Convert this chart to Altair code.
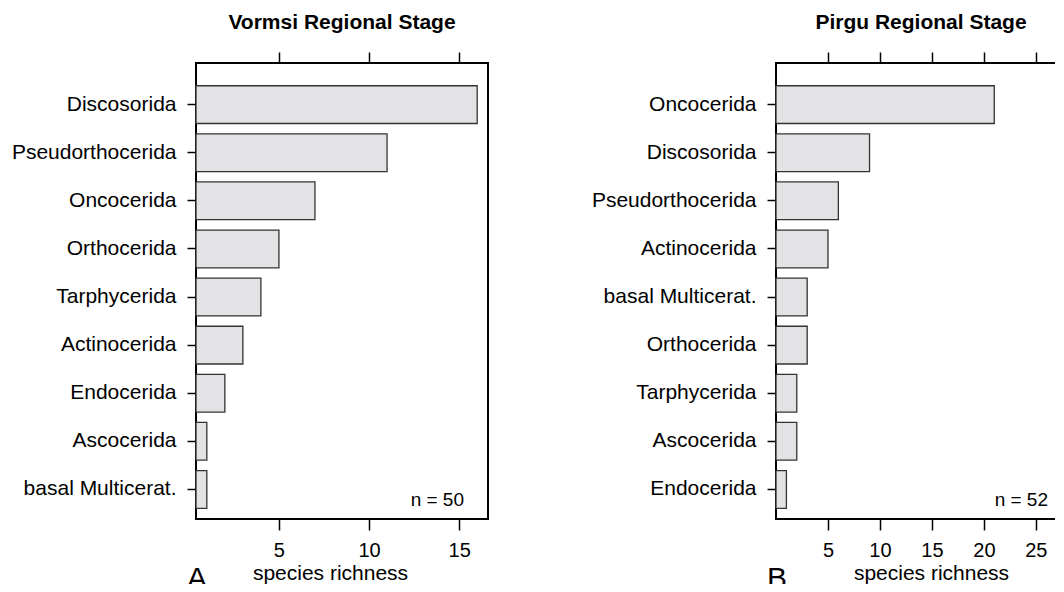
import altair as alt
import pandas as pd

# ---- data ----
vormsi_orders = ["Discosorida", "Pseudorthocerida", "Oncocerida", "Orthocerida",
                 "Tarphycerida", "Actinocerida", "Endocerida", "Ascocerida",
                 "basal Multicerat."]
vormsi_richness = [16, 11, 7, 5, 4, 3, 2, 1, 1]

pirgu_orders = ["Oncocerida", "Discosorida", "Pseudorthocerida", "Actinocerida",
                "basal Multicerat.", "Orthocerida", "Tarphycerida", "Ascocerida",
                "Endocerida"]
pirgu_richness = [21, 9, 6, 5, 3, 3, 2, 2, 1]

ticks_a = [5, 10, 15]
ticks_b = [5, 10, 15, 20, 25]

FONT = "Liberation Sans"
PANEL_H = 456


def panel(orders, values, domain, ticks, title, n_label, letter, width, n_x, title_x):
    bars_df = pd.DataFrame({"order": orders, "richness": values})
    note_df = pd.DataFrame({"note": [n_label]})
    letter_df = pd.DataFrame({"letter": [letter]})

    xscale = alt.Scale(domain=domain, nice=False, zero=False)
    yenc = alt.Y(
        "order:N", sort=orders, title=None,
        scale=alt.Scale(paddingInner=0.216, paddingOuter=0.348, align=0.68),
        axis=alt.Axis(labelFont=FONT, labelFontSize=21, labelColor="black",
                      labelLimit=400, tickSize=9, tickColor="black", tickWidth=1.5,
                      labelPadding=11, domain=False, grid=False),
    )

    bars = alt.Chart(bars_df).mark_bar(
        fill="#e3e3e5", stroke="#333333", strokeWidth=1.3
    ).encode(
        x=alt.X("richness:Q", scale=xscale,
                axis=alt.Axis(orient="bottom", values=ticks, title="species richness",
                              titleFont=FONT, titleFontSize=21, titleFontWeight="normal",
                              titleColor="black", titleX=title_x, titleAlign="center",
                              titlePadding=2, labelFont=FONT, labelFontSize=20,
                              labelColor="black", labelPadding=10, tickSize=11,
                              tickColor="black", tickWidth=1.5, domain=False, grid=False)),
        x2=alt.datum(domain[0]),
        y=yenc,
    )

    top_axis = alt.Chart(bars_df).mark_point(opacity=0).encode(
        x=alt.X("richness:Q", scale=xscale, title=None,
                axis=alt.Axis(orient="top", values=ticks, labels=False, tickSize=11,
                              tickColor="black", tickWidth=1.5, domain=False, grid=False)),
        y=yenc,
    )

    note = alt.Chart(note_df).mark_text(
        font=FONT, fontSize=19, align="right", baseline="alphabetic", color="black"
    ).encode(text="note:N", x=alt.value(n_x), y=alt.value(PANEL_H - 13))

    letter_mark = alt.Chart(letter_df).mark_text(
        font=FONT, fontSize=30, align="left", baseline="alphabetic", color="black"
    ).encode(text="letter:N", x=alt.value(-9), y=alt.value(PANEL_H + 69))

    return alt.layer(bars, top_axis, note, letter_mark).resolve_axis(
        x="independent"
    ).properties(
        width=width, height=PANEL_H,
        title=alt.TitleParams(title, font=FONT, fontSize=21, fontWeight="bold",
                              anchor="middle", baseline="alphabetic", offset=1,
                              color="black"),
    )


left = panel(vormsi_orders, vormsi_richness, [0.4, 16.6], ticks_a,
             "Vormsi Regional Stage", "n = 50", "A", 292, 268, 134)
right = panel(pirgu_orders, pirgu_richness, [0, 27.9], ticks_b,
              "Pirgu Regional Stage", "n = 52", "B", 290, 272, 155)

chart = alt.hconcat(left, right, spacing=101).properties(
    padding={"left": 2, "top": 3, "right": -12, "bottom": -11},
    background="white",
).configure_view(stroke="black", strokeWidth=2).configure_axis(grid=False)

chart.save("out.html", embed_options={"renderer": "svg", "actions": False})
